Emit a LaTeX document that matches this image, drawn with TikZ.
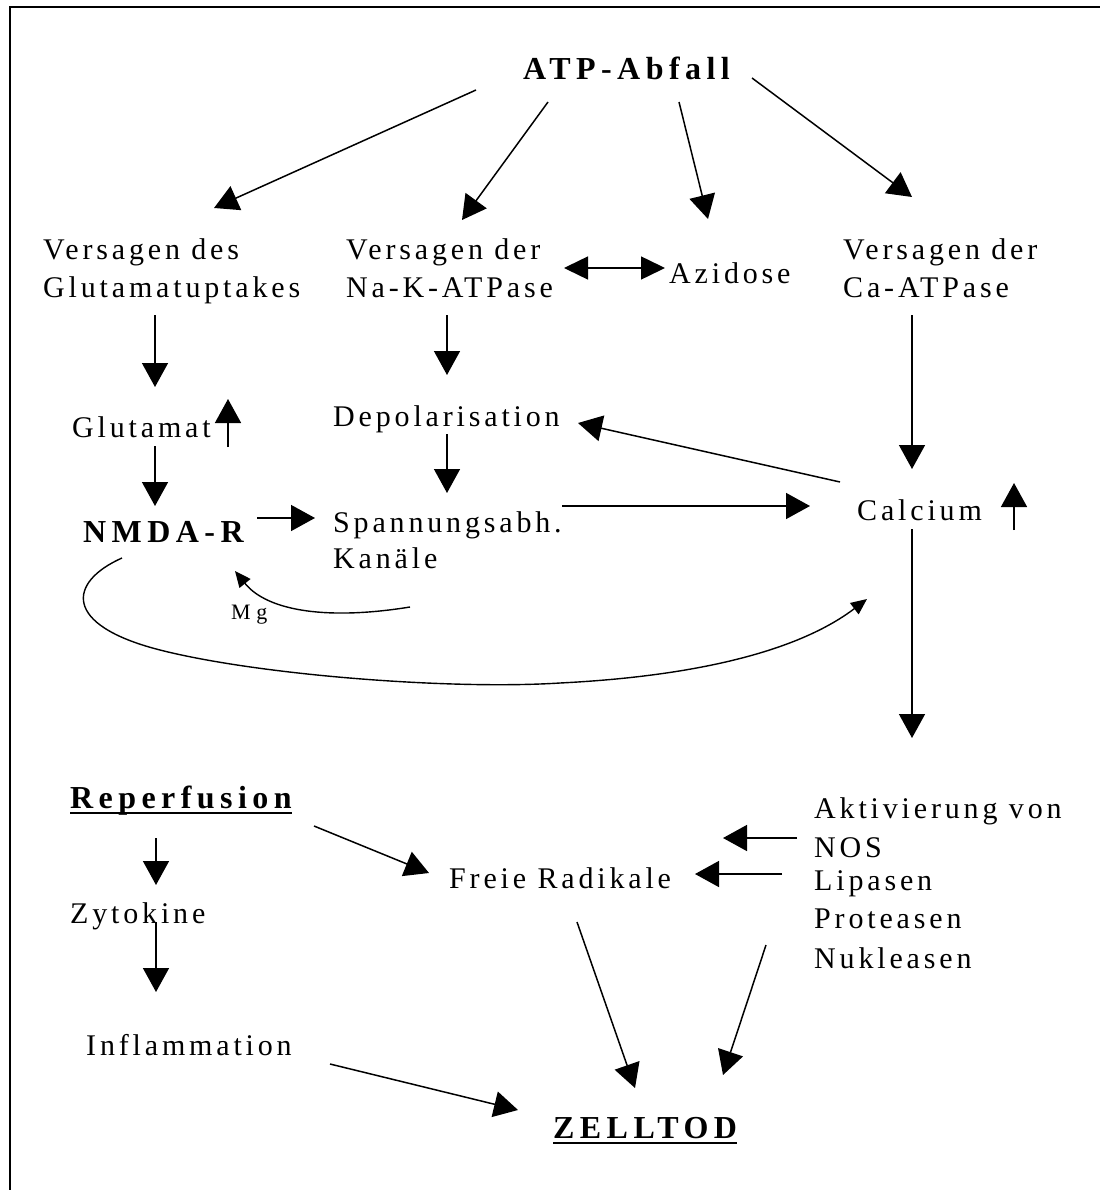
\documentclass[tikz,border=0pt]{standalone}
\usepackage{fontspec}
\setmainfont{Liberation Serif}[LetterSpace=12.8]
\newfontfamily\bsp{Liberation Serif}[LetterSpace=17]
\newfontfamily\msp{Liberation Serif}[LetterSpace=25]
\usetikzlibrary{arrows.meta}
\begin{document}
\begin{tikzpicture}[x=1pt,y=-1pt,
 lbl/.style={anchor=base west,inner sep=0pt,font=\fontsize{30}{38}\selectfont},
 blbl/.style={anchor=base west,inner sep=0pt,font=\bsp\bfseries\fontsize{32}{38}\selectfont},
 arr/.style={line width=1.5pt,-{Triangle[length=24pt,width=26pt]}},
 darr/.style={line width=1.5pt,{Triangle[length=24pt,width=23pt]}-{Triangle[length=24pt,width=23pt]}},
 sarr/.style={line width=1.4pt,-{Triangle[length=16pt,width=14pt]}},
 uline/.style={line width=2.5pt}]
\useasboundingbox (0,0) rectangle (1100,1190);
\draw[line width=2.5pt] (10,1190) -- (10,7) -- (1100,7);

% nodes
\node[blbl] (atp) at (523,80) {ATP-Abfall};
\node[lbl] (vg1) at (43,259) {Versagen des};
\node[lbl] (vg2) at (43,297) {Glutamatuptakes};
\node[lbl] (vn1) at (346,259) {Versagen der};
\node[lbl] (vn2) at (346,297) {Na-K-ATPase};
\node[lbl] (azi) at (669,283) {Azidose};
\node[lbl] (vc1) at (843,259) {Versagen der};
\node[lbl] (vc2) at (843,297) {Ca-ATPase};
\node[lbl] (glu) at (72,437) {Glutamat};
\node[lbl] (dep) at (333,426) {Depolarisation};
\node[blbl] (nmda) at (83,542) {NMDA-R};
\node[lbl] (sp1) at (333,532) {Spannungsabh.};
\node[lbl] (sp2) at (333,568) {Kanäle};
\node[lbl] (cal) at (857,520) {Calcium};
\node[anchor=base west,inner sep=0pt,font=\msp\fontsize{22}{26}\selectfont] (mg) at (231,619) {Mg};
\node[blbl] (rep) at (70,808) {Reperfusion};
\node[lbl] (fr) at (449,888) {Freie Radikale};
\node[lbl] (akt) at (814,818) {Aktivierung von};
\node[lbl] (nos) at (814,857) {NOS};
\node[lbl] (lip) at (814,890) {Lipasen};
\node[lbl] (pro) at (814,928) {Proteasen};
\node[lbl] (nuk) at (814,968) {Nukleasen};
\node[lbl] (zyt) at (70,923) {Zytokine};
\node[lbl] (inf) at (86,1055) {Inflammation};
\node[blbl] (tod) at (553,1138) {ZELLTOD};

% underlines
\draw[uline] ([yshift=-5pt]rep.base west) -- ([yshift=-5pt]rep.base east);
\draw[uline] ([yshift=-5pt]tod.base west) -- ([yshift=-5pt]tod.base east);

% connector end points
\coordinate (a1s) at (476,90);   \coordinate (a1e) at (214,208);
\coordinate (a2s) at (548,102);  \coordinate (a2e) at (462,220);
\coordinate (a3s) at (679,102);  \coordinate (a3e) at (708,219);
\coordinate (a4s) at (752,78);   \coordinate (a4e) at (912,197);
\coordinate (dl) at (564,268);   \coordinate (dr) at (665,268);
\coordinate (g1s) at (155,315);  \coordinate (g1e) at (155,387);
\coordinate (n1s) at (447,315);  \coordinate (n1e) at (447,375);
\coordinate (c1s) at (912,315);  \coordinate (c1e) at (912,469);
\coordinate (gus) at (228,447);  \coordinate (gue) at (228,399);
\coordinate (d1s) at (447,434);  \coordinate (d1e) at (447,493);
\coordinate (g2s) at (155,446);  \coordinate (g2e) at (155,506);
\coordinate (m1s) at (257,518);  \coordinate (m1e) at (315,518);
\coordinate (s1s) at (562,506);  \coordinate (s1e) at (810,506);
\coordinate (cds) at (840,482);  \coordinate (cde) at (578,423);
\coordinate (cus) at (1014,530); \coordinate (cue) at (1014,483);
\coordinate (c2s) at (912,529);  \coordinate (c2e) at (912,738);
\coordinate (r1s) at (156,838);  \coordinate (r1e) at (156,885);
\coordinate (r2s) at (314,826);  \coordinate (r2e) at (429,873);
\coordinate (k1s) at (797,838);  \coordinate (k1e) at (723,838);
\coordinate (k2s) at (782,874);  \coordinate (k2e) at (695,874);
\coordinate (z1s) at (156,922);  \coordinate (z1e) at (156,992);
\coordinate (i1s) at (330,1064); \coordinate (i1e) at (518,1110);
\coordinate (f1s) at (577,922);  \coordinate (f1e) at (635,1088);
\coordinate (p1s) at (766,945);  \coordinate (p1e) at (723,1075);
\coordinate (ls) at (122,558);   \coordinate (le) at (867,599);
\coordinate (ms) at (410,607);   \coordinate (me) at (235,571);

% connectors
\draw[arr] (a1s) -- (a1e);
\draw[arr] (a2s) -- (a2e);
\draw[arr] (a3s) -- (a3e);
\draw[arr] (a4s) -- (a4e);
\draw[darr] (dl) -- (dr);
\draw[arr] (g1s) -- (g1e);
\draw[arr] (n1s) -- (n1e);
\draw[arr] (c1s) -- (c1e);
\draw[arr] (gus) -- (gue);
\draw[arr] (d1s) -- (d1e);
\draw[arr] (g2s) -- (g2e);
\draw[arr] (m1s) -- (m1e);
\draw[arr] (s1s) -- (s1e);
\draw[arr] (cds) -- (cde);
\draw[arr] (cus) -- (cue);
\draw[arr] (c2s) -- (c2e);
\draw[arr] (r1s) -- (r1e);
\draw[arr] (r2s) -- (r2e);
\draw[arr] (k1s) -- (k1e);
\draw[arr] (k2s) -- (k2e);
\draw[arr] (z1s) -- (z1e);
\draw[arr] (i1s) -- (i1e);
\draw[arr] (f1s) -- (f1e);
\draw[arr] (p1s) -- (p1e);

% curved connectors
\draw[sarr] (ls) .. controls (68,582) and (62,625) .. (160,650)
  .. controls (258,675) and (450,690) .. (560,683)
  .. controls (700,676) and (800,650) .. (le);
\draw[sarr] (ms) .. controls (330,620) and (268,612) .. (me);
\end{tikzpicture}
\end{document}
